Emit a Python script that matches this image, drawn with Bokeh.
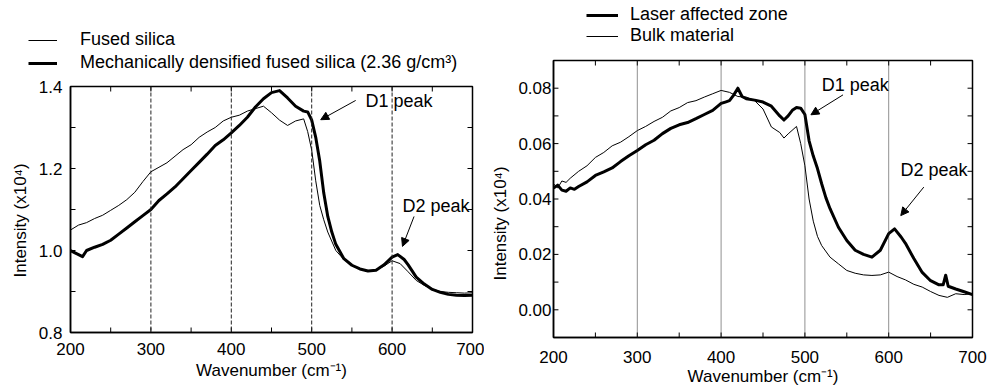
from bokeh.plotting import figure
from bokeh.models import (FixedTicker, Range1d, Span, Label, Arrow, NormalHead, Legend,
                          LegendItem, PrintfTickFormatter, Title)
from bokeh.layouts import row, column
from bokeh.embed import file_html
from bokeh.resources import INLINE

FONT = "Liberation Sans"

# ---------------- data: left panel ----------------
fused_x = [200, 210, 220, 230, 240, 250, 260, 270, 280, 290, 300, 310, 320, 330, 340, 350,
           360, 370, 380, 390, 400, 410, 420, 430, 440, 450, 460, 470, 480, 490, 495, 500,
           505, 510, 515, 520, 530, 540, 550, 560, 570, 580, 590, 600, 610, 620, 630, 640,
           650, 660, 670, 680, 690, 700]
fused_y = [1.050, 1.062, 1.068, 1.078, 1.086, 1.098, 1.110, 1.124, 1.142, 1.168, 1.192, 1.203,
           1.214, 1.230, 1.246, 1.258, 1.276, 1.289, 1.300, 1.316, 1.325, 1.330, 1.340, 1.346,
           1.352, 1.336, 1.318, 1.305, 1.316, 1.321, 1.290, 1.245, 1.170, 1.110, 1.075, 1.045,
           1.000, 0.978, 0.965, 0.955, 0.950, 0.952, 0.962, 0.975, 0.968, 0.948, 0.927, 0.915,
           0.906, 0.900, 0.898, 0.897, 0.896, 0.897]

dens_x = [200, 205, 210, 215, 220, 230, 240, 250, 260, 270, 280, 290, 300, 310, 320, 330, 340,
          350, 360, 370, 380, 390, 400, 410, 420, 430, 440, 450, 460, 470, 480, 490, 495, 500,
          505, 510, 515, 520, 525, 530, 540, 550, 560, 570, 580, 590, 600, 607, 615, 620, 630,
          640, 650, 660, 670, 680, 690, 700]
dens_y = [1.000, 0.995, 0.990, 0.985, 1.000, 1.008, 1.015, 1.025, 1.040, 1.055, 1.070, 1.085,
          1.100, 1.122, 1.138, 1.155, 1.175, 1.195, 1.215, 1.235, 1.256, 1.270, 1.287, 1.305,
          1.325, 1.350, 1.370, 1.385, 1.390, 1.372, 1.352, 1.340, 1.338, 1.318, 1.276, 1.218,
          1.140, 1.083, 1.045, 1.015, 0.980, 0.964, 0.955, 0.950, 0.952, 0.965, 0.984, 0.990,
          0.978, 0.965, 0.935, 0.918, 0.905, 0.898, 0.893, 0.891, 0.890, 0.891]

# ---------------- data: right panel ----------------
laser_x = [200, 205, 210, 215, 220, 225, 230, 240, 250, 260, 270, 280, 290, 300, 310, 320, 330,
           340, 350, 360, 370, 380, 390, 400, 405, 410, 415, 420, 425, 430, 440, 450, 460, 470,
           475, 480, 485, 490, 495, 500, 505, 510, 515, 520, 525, 530, 540, 550, 560, 570, 580,
           590, 600, 607, 615, 620, 630, 640, 650, 660, 665, 668, 671, 680, 690, 700]
laser_y = [0.0440, 0.0450, 0.0432, 0.0428, 0.0440, 0.0435, 0.0445, 0.0462, 0.0485, 0.0498,
           0.0512, 0.0535, 0.0556, 0.0575, 0.0596, 0.0612, 0.0636, 0.0655, 0.0668, 0.0676,
           0.0690, 0.0705, 0.0720, 0.0745, 0.0750, 0.0755, 0.0775, 0.0800, 0.0770, 0.0762,
           0.0757, 0.0750, 0.0735, 0.0700, 0.0685, 0.0700, 0.0720, 0.0730, 0.0728, 0.0705,
           0.0610, 0.0555, 0.0510, 0.0455, 0.0405, 0.0365, 0.0298, 0.0250, 0.0215, 0.0200,
           0.0190, 0.0215, 0.0275, 0.0292, 0.0262, 0.0240, 0.0185, 0.0135, 0.0105, 0.0090,
           0.0090, 0.0125, 0.0085, 0.0075, 0.0065, 0.0055]

bulk_x = [200, 205, 210, 215, 220, 230, 240, 250, 260, 270, 280, 290, 300, 310, 320, 330, 340,
          350, 360, 370, 380, 390, 400, 410, 420, 430, 440, 450, 460, 470, 475, 480, 490, 495,
          500, 505, 510, 515, 520, 530, 540, 550, 560, 570, 580, 590, 600, 610, 620, 630, 640,
          650, 660, 670, 680, 690, 700]
bulk_y = [0.0455, 0.0440, 0.0465, 0.0460, 0.0475, 0.0500, 0.0520, 0.0550, 0.0568, 0.0592,
          0.0605, 0.0625, 0.0647, 0.0662, 0.0680, 0.0695, 0.0718, 0.0730, 0.0748, 0.0755,
          0.0768, 0.0780, 0.0792, 0.0785, 0.0770, 0.0768, 0.0755, 0.0725, 0.0660, 0.0640,
          0.0620, 0.0635, 0.0662, 0.0600, 0.0520, 0.0400, 0.0320, 0.0265, 0.0232, 0.0190,
          0.0166, 0.0142, 0.0132, 0.0126, 0.0124, 0.0126, 0.0136, 0.0120, 0.0108, 0.0092,
          0.0082, 0.0066, 0.0052, 0.0045, 0.0058, 0.0055, 0.0058]

x_ticks = [200, 300, 400, 500, 600, 700]
x_all_ticks = [200, 250, 300, 350, 400, 450, 500, 550, 600, 650, 700]
left_y_ticks = [0.8, 1.0, 1.2, 1.4]
left_y_all = [0.8, 0.9, 1.0, 1.1, 1.2, 1.3, 1.4]
right_y_ticks = [0.0, 0.02, 0.04, 0.06, 0.08]
right_y_all = [-0.01, 0.0, 0.01, 0.02, 0.03, 0.04, 0.05, 0.06, 0.07, 0.08, 0.09]
ref_lines = [300, 400, 500, 600]

XLABEL = "Wavenumber (cm\u207b\u00b9)"
YLABEL = "Intensity (x10\u2074)"
TICK_PX = 5


def style_axis(ax):
    ax.major_tick_in = 0
    ax.major_tick_out = 0
    ax.minor_tick_in = 0
    ax.minor_tick_out = 0
    ax.axis_line_color = "black"
    ax.axis_line_width = 1.5
    ax.major_label_text_font = FONT
    ax.major_label_text_font_size = "17px"
    ax.major_label_text_color = "black"
    ax.axis_label_text_font = FONT
    ax.axis_label_text_font_style = "normal"
    ax.axis_label_text_font_size = "17px"
    ax.axis_label_text_color = "black"


def make_panel(width, height, yr, borders, yticks, yall, yfmt, ystand, ytitle_stand,
               ytitle_offset, xstand, xlabstand, dash):
    p = figure(width=width, height=height, x_range=Range1d(200, 700), y_range=Range1d(*yr),
               output_backend="svg", toolbar_location=None,
               min_border_left=borders[0], min_border_right=borders[1],
               min_border_top=borders[2], min_border_bottom=borders[3])
    p.grid.visible = False
    p.outline_line_color = "black"
    p.outline_line_width = 1.5
    p.xaxis.ticker = FixedTicker(ticks=x_ticks)
    p.yaxis.ticker = FixedTicker(ticks=yticks)
    p.yaxis.formatter = PrintfTickFormatter(format=yfmt)
    p.xaxis.axis_label = XLABEL
    for ax in p.xaxis + p.yaxis:
        style_axis(ax)
    p.xaxis.major_label_standoff = xstand
    p.xaxis.axis_label_standoff = xlabstand
    p.yaxis.major_label_standoff = ystand

    # y label as a side title, so it can sit a little below the frame's middle
    p.add_layout(Title(text=YLABEL, align="left", offset=ytitle_offset,
                       standoff=ytitle_stand, vertical_align="middle",
                       text_font=FONT, text_font_size="17px", text_font_style="normal",
                       text_color="black"), "left")

    # inward tick marks on all four sides, from the tick lists
    fw = width - borders[0] - borders[1]
    fh = height - borders[2] - borders[3]
    x0, x1 = 200, 700
    y0, y1 = yr
    dx = (x1 - x0) / fw * TICK_PX
    dy = (y1 - y0) / fh * TICK_PX
    n = len(x_all_ticks)
    m = len(yall)
    p.segment(x0=x_all_ticks, y0=[y0] * n, x1=x_all_ticks, y1=[y0 + dy] * n,
              line_color="black", line_width=1)
    p.segment(x0=x_all_ticks, y0=[y1] * n, x1=x_all_ticks, y1=[y1 - dy] * n,
              line_color="black", line_width=1)
    p.segment(x0=[x0] * m, y0=yall, x1=[x0 + dx] * m, y1=yall, line_color="black", line_width=1)
    p.segment(x0=[x1] * m, y0=yall, x1=[x1 - dx] * m, y1=yall, line_color="black", line_width=1)

    for loc in ref_lines:
        p.add_layout(Span(location=loc, dimension="height", line_color="#222222",
                          line_width=1, line_dash=dash))
    return p


def add_note(p, text, tx, ty, ax0, ay0, ax1, ay1):
    p.add_layout(Label(x=tx, y=ty, text=text, text_font=FONT, text_font_size="18px",
                       text_color="black", text_baseline="middle", text_align="left"))
    p.add_layout(Arrow(x_start=ax0, y_start=ay0, x_end=ax1, y_end=ay1,
                       line_color="black", line_width=1,
                       end=NormalHead(size=8, fill_color="black", line_color="black")))


def legend_fig(width, height, entries, loc, glyph_w, glyph_h, standoff, spacing):
    # a frameless strip that only carries the legend; its line renderers reuse the
    # series data but lie outside this strip's ranges, so only the legend shows
    lf = figure(width=width, height=height, x_range=Range1d(0, 1), y_range=Range1d(0, 1),
                output_backend="svg", toolbar_location=None, x_axis_location=None,
                y_axis_location=None, min_border=0)
    try:
        lf.frame_align = False
    except Exception:
        pass
    lf.outline_line_color = None
    lf.grid.visible = False
    items = []
    for label, lw, xs, ys in entries:
        r = lf.line(x=xs, y=ys, line_color="black", line_width=lw)
        items.append(LegendItem(label=label, renderers=[r]))
    lf.add_layout(Legend(items=items, location=loc, glyph_width=glyph_w, glyph_height=glyph_h,
                         label_height=glyph_h, label_standoff=standoff, spacing=spacing,
                         padding=0, margin=0, border_line_color=None, background_fill_alpha=0,
                         label_text_font=FONT, label_text_font_size="18px",
                         label_text_color="black"))
    return lf


# ---------------- left panel ----------------
W1 = 484
L1 = legend_fig(W1, 74, [("Fused silica", 1, fused_x, fused_y),
                         ("Mechanically densified fused silica (2.36 g/cm\u00b3)", 3,
                          dens_x, dens_y)],
                (28, 1), 29, 20, 23, 2)
p1 = make_panel(W1, 312, (0.8, 1.4), (70, 12, 12, 54), left_y_ticks, left_y_all, "%.1f",
                8, 10, 55, 10, 3, "4 2")
p1.line(fused_x, fused_y, line_color="black", line_width=1)
p1.line(dens_x, dens_y, line_color="black", line_width=3, line_join="round")
add_note(p1, "D1 peak", 567, 1.365, 554.7, 1.366, 511.2, 1.319)
add_note(p1, "D2 peak", 613, 1.108, 627.3, 1.083, 612.9, 1.010)

# ---------------- right panel ----------------
W2 = 503
L2 = legend_fig(W2, 54, [("Laser affected zone", 3, laser_x, laser_y),
                         ("Bulk material", 1, bulk_x, bulk_y)],
                (102, 8), 32, 18, 12, -1)
p2 = make_panel(W2, 335, (-0.01, 0.09), (65, 15, 6, 52), right_y_ticks, right_y_all, "%.2f",
                2, 10, 57, 13, 1, "1 1")
p2.line(laser_x, laser_y, line_color="black", line_width=3, line_join="round")
p2.line(bulk_x, bulk_y, line_color="black", line_width=1)
add_note(p2, "D1 peak", 520, 0.081, 545.5, 0.0776, 507.2, 0.0704)
add_note(p2, "D2 peak", 614, 0.0503, 641.9, 0.0443, 614.4, 0.0340)

layout = row(column(L1, p1), column(L2, p2))
open("out.html", "w").write(file_html(layout, INLINE))
